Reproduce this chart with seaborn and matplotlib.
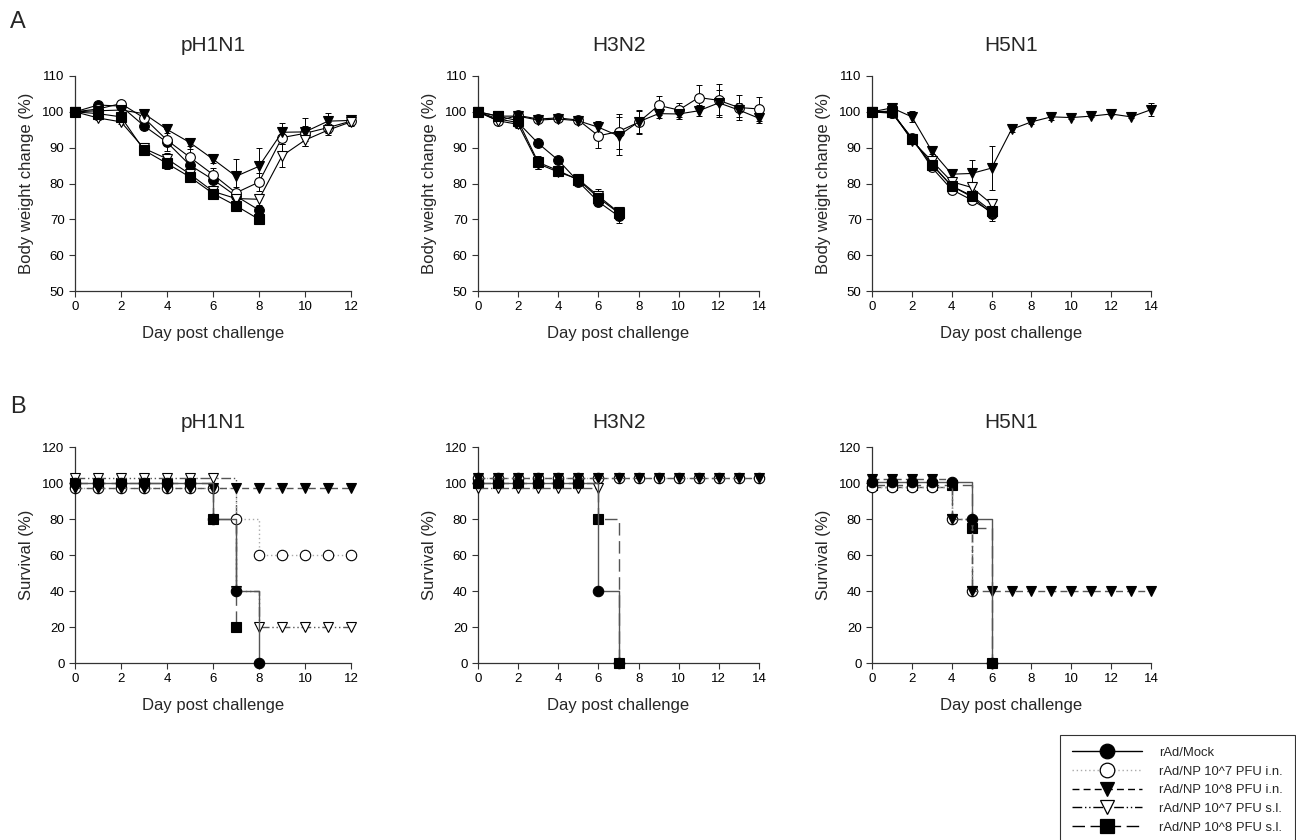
import numpy as np
import matplotlib.pyplot as plt
import seaborn as sns
from matplotlib.lines import Line2D

# groups (legend order)
groups = ["rAd/Mock", "rAd/NP 10^7 PFU i.n.", "rAd/NP 10^8 PFU i.n.",
          "rAd/NP 10^7 PFU s.l.", "rAd/NP 10^8 PFU s.l."]
strains = ["pH1N1", "H3N2", "H5N1"]
day_max = [12, 14, 14]

# body weight change (%), one value per day starting at day 0
weight_pH1N1 = {
    "rAd/Mock": [100, 101.9, 101.6, 96.1, 91.5, 85.1, 81.1, 76.5, 72.6],
    "rAd/NP 10^7 PFU i.n.": [100, 100.8, 102.3, 98.3, 92.1, 87.3, 82.5, 77.4, 80.4, 92.8, 94.0, 95.6, 97.4],
    "rAd/NP 10^8 PFU i.n.": [100, 100.3, 100.5, 99.5, 95.1, 91.4, 86.8, 82.0, 84.8, 94.3, 94.4, 97.4, 97.6],
    "rAd/NP 10^7 PFU s.l.": [100, 98.3, 97.2, 89.8, 86.9, 82.6, 77.8, 75.8, 75.6, 87.7, 92.1, 94.9, 97.2],
    "rAd/NP 10^8 PFU s.l.": [100, 99.5, 98.6, 89.3, 85.6, 81.8, 77.2, 73.8, 70.0],
}
err_pH1N1 = {
    "rAd/Mock": [0, 0.5, 0.5, 1, 1, 1, 1, 1.5, 1],
    "rAd/NP 10^7 PFU i.n.": [0, 0.5, 0.5, 1, 3.1, 2.2, 1.7, 1.5, 2.6, 1.8, 2, 1.5, 1],
    "rAd/NP 10^8 PFU i.n.": [0, 0.5, 0.5, 1.2, 1, 1, 1, 4.8, 5, 2.7, 4, 2.3, 1.5],
    "rAd/NP 10^7 PFU s.l.": [0, 0.5, 0.5, 1, 1.5, 1, 1.2, 1.5, 1.5, 3.2, 1.5, 1.5, 1],
    "rAd/NP 10^8 PFU s.l.": [0, 0.5, 0.8, 1, 1.5, 1, 1.2, 1, 0.5],
}
weight_H3N2 = {
    "rAd/Mock": [100, 98.0, 97.0, 91.2, 86.5, 80.5, 74.9, 70.9],
    "rAd/NP 10^7 PFU i.n.": [100, 97.5, 99.0, 98.0, 98.3, 97.7, 93.3, 94.5, 97.1, 101.8, 100.5, 104.0, 103.2, 101.2, 100.8],
    "rAd/NP 10^8 PFU i.n.": [100, 98.8, 98.8, 97.7, 98.0, 97.5, 95.7, 93.3, 97.2, 99.5, 99.4, 100.3, 102.5, 100.5, 98.2],
    "rAd/NP 10^7 PFU s.l.": [100, 97.5, 96.5, 85.5, 83.2, 81.2, 76.5, 72.0],
    "rAd/NP 10^8 PFU s.l.": [100, 98.8, 97.5, 85.9, 83.6, 81.0, 76.0, 71.8],
}
err_H3N2 = {
    "rAd/Mock": [0, 1, 1, 0.8, 0.8, 1, 1.2, 2],
    "rAd/NP 10^7 PFU i.n.": [0, 1.2, 0.8, 0.5, 0.5, 0.8, 3.5, 5.0, 3.4, 2.6, 2.0, 3.6, 4.6, 3.4, 3.3],
    "rAd/NP 10^8 PFU i.n.": [0, 0.8, 0.8, 0.5, 0.5, 0.8, 1.8, 5.3, 3.0, 1.2, 1.5, 1.5, 3.5, 2.0, 1.2],
    "rAd/NP 10^7 PFU s.l.": [0, 0.8, 1, 1.5, 1.2, 1.5, 2.0, 1.5],
    "rAd/NP 10^8 PFU s.l.": [0, 0.8, 1, 1.8, 1.2, 1.2, 1.5, 1.5],
}
weight_H5N1 = {
    "rAd/Mock": [100, 99.8, 92.3, 85.4, 79.3, 76.3, 71.6],
    "rAd/NP 10^7 PFU i.n.": [100, 99.6, 92.8, 84.5, 78.3, 75.4, 72.1],
    "rAd/NP 10^8 PFU i.n.": [100, 101.1, 98.6, 89.1, 82.6, 82.8, 84.3, 95.1, 97.2, 98.6, 98.4, 98.8, 99.4, 98.6, 100.6],
    "rAd/NP 10^7 PFU s.l.": [100, 100.2, 92.0, 86.3, 80.5, 78.9, 74.3],
    "rAd/NP 10^8 PFU s.l.": [100, 100.0, 92.5, 85.3, 79.3, 76.6, 72.3],
}
err_H5N1 = {
    "rAd/Mock": [0, 1, 1, 1, 1, 1, 2.2],
    "rAd/NP 10^7 PFU i.n.": [0, 1, 1, 1, 1, 1, 1.5],
    "rAd/NP 10^8 PFU i.n.": [0, 0.8, 1.5, 1.0, 1.4, 3.7, 6.1, 0.8, 0.5, 0.8, 0.3, 0.3, 0.3, 0.3, 1.8],
    "rAd/NP 10^7 PFU s.l.": [0, 1, 1, 1, 1, 1.5, 1.2],
    "rAd/NP 10^8 PFU s.l.": [0, 1, 1.2, 1.2, 1, 1.2, 1],
}

# survival (%), one value per day starting at day 0
surv_pH1N1 = {
    "rAd/Mock": [100, 100, 100, 100, 100, 100, 80, 40, 0],
    "rAd/NP 10^7 PFU i.n.": [100, 100, 100, 100, 100, 100, 100, 80, 60, 60, 60, 60, 60],
    "rAd/NP 10^8 PFU i.n.": [100, 100, 100, 100, 100, 100, 100, 100, 100, 100, 100, 100, 100],
    "rAd/NP 10^7 PFU s.l.": [100, 100, 100, 100, 100, 100, 100, 40, 20, 20, 20, 20, 20],
    "rAd/NP 10^8 PFU s.l.": [100, 100, 100, 100, 100, 100, 80, 20],
}
surv_H3N2 = {
    "rAd/Mock": [100, 100, 100, 100, 100, 100, 40, 0],
    "rAd/NP 10^7 PFU i.n.": [100, 100, 100, 100, 100, 100, 100, 100, 100, 100, 100, 100, 100, 100, 100],
    "rAd/NP 10^8 PFU i.n.": [100, 100, 100, 100, 100, 100, 100, 100, 100, 100, 100, 100, 100, 100, 100],
    "rAd/NP 10^7 PFU s.l.": [100, 100, 100, 100, 100, 100, 100],
    "rAd/NP 10^8 PFU s.l.": [100, 100, 100, 100, 100, 100, 80, 0],
}
surv_H5N1 = {
    "rAd/Mock": [100, 100, 100, 100, 100, 80, 0],
    "rAd/NP 10^7 PFU i.n.": [100, 100, 100, 100, 80, 40],
    "rAd/NP 10^8 PFU i.n.": [100, 100, 100, 100, 80, 40, 40, 40, 40, 40, 40, 40, 40, 40, 40],
    "rAd/NP 10^7 PFU s.l.": [100, 100, 100, 100, 80, 40],
    "rAd/NP 10^8 PFU s.l.": [100, 100, 100, 100, 100, 75, 0],
}
# small vertical shifts of the 100% plateau so overlapping curves stay visible
shift_pH1N1 = {"rAd/Mock": 0, "rAd/NP 10^7 PFU i.n.": -3, "rAd/NP 10^8 PFU i.n.": -3,
               "rAd/NP 10^7 PFU s.l.": 3, "rAd/NP 10^8 PFU s.l.": 0}
shift_H3N2 = {"rAd/Mock": 0, "rAd/NP 10^7 PFU i.n.": 3, "rAd/NP 10^8 PFU i.n.": 3,
              "rAd/NP 10^7 PFU s.l.": -3, "rAd/NP 10^8 PFU s.l.": 0}
shift_H5N1 = {"rAd/Mock": 0.5, "rAd/NP 10^7 PFU i.n.": -2, "rAd/NP 10^8 PFU i.n.": 2.5,
              "rAd/NP 10^7 PFU s.l.": -2, "rAd/NP 10^8 PFU s.l.": -1}

weights = [weight_pH1N1, weight_H3N2, weight_H5N1]
errs = [err_pH1N1, err_H3N2, err_H5N1]
survs = [surv_pH1N1, surv_H3N2, surv_H5N1]
shifts = [shift_pH1N1, shift_H3N2, shift_H5N1]

styles = {
    "rAd/Mock": dict(marker="o", mfc="black", ls="-", lc="#555555"),
    "rAd/NP 10^7 PFU i.n.": dict(marker="o", mfc="white", ls=(0, (1, 2)), lc="#aaaaaa"),
    "rAd/NP 10^8 PFU i.n.": dict(marker="v", mfc="black", ls=(0, (5, 3)), lc="#555555"),
    "rAd/NP 10^7 PFU s.l.": dict(marker="v", mfc="white", ls=(0, (7, 2, 1, 2, 1, 2)), lc="#555555"),
    "rAd/NP 10^8 PFU s.l.": dict(marker="s", mfc="black", ls=(0, (9, 4)), lc="#555555"),
}

sns.set_style("ticks")
plt.rcParams["font.family"] = ["Liberation Sans", "DejaVu Sans"]

fig = plt.figure(figsize=(12.96, 8.4), dpi=100)

lefts = [75, 478, 872]
widths = [276, 281, 279]
W, H = 1296, 840


def style_axes(ax, xmax, ylim, yticks, ylabel):
    ax.set_xlim(0, xmax)
    ax.set_ylim(*ylim)
    ax.set_xticks(range(0, xmax + 1, 2))
    ax.set_yticks(yticks)
    for s in ["top", "right"]:
        ax.spines[s].set_visible(False)
    for s in ["left", "bottom"]:
        ax.spines[s].set_color("#333333")
        ax.spines[s].set_linewidth(0.9)
    ax.tick_params(direction="out", length=4, width=0.8, labelsize=9.5, colors="#333333", labelcolor="black")
    ax.set_xlabel("Day post challenge", fontsize=12, labelpad=9)
    ax.set_ylabel(ylabel, fontsize=12, labelpad=6)


# A: body weight
for i, strain in enumerate(strains):
    ax = fig.add_axes([lefts[i] / W, 1 - 291 / H, widths[i] / W, 215 / H])
    for g in groups:
        y = weights[i][g]
        x = list(range(len(y)))
        ax.errorbar(x, y, yerr=errs[i][g], fmt="none", ecolor="black", elinewidth=0.7,
                    capsize=2.5, capthick=0.7, zorder=2, clip_on=False)
        st = styles[g]
        sns.lineplot(x=x, y=y, ax=ax, color="black", linewidth=0.8, marker=st["marker"],
                     markersize=7, markerfacecolor=st["mfc"], markeredgecolor="black",
                     markeredgewidth=0.8, errorbar=None, zorder=3, clip_on=False)
    style_axes(ax, day_max[i], (50, 110), range(50, 111, 10), "Body weight change (%)")
    ax.set_title(strain, fontsize=15, pad=18)

# B: survival
draw_order = [groups[4], groups[3], groups[1], groups[2], groups[0]]
for i, strain in enumerate(strains):
    ax = fig.add_axes([lefts[i] / W, 1 - 663 / H, widths[i] / W, 216 / H])
    for g in draw_order:
        v = np.array(survs[i][g], dtype=float)
        y = np.where(v == 100, v + shifts[i][g], v)
        x = np.arange(len(v))
        st = styles[g]
        sns.lineplot(x=x, y=y, ax=ax, color=st["lc"], linewidth=1.0, linestyle=st["ls"],
                     drawstyle="steps-post", marker=st["marker"], markersize=7.5,
                     markerfacecolor=st["mfc"], markeredgecolor="black", markeredgewidth=0.8,
                     errorbar=None, zorder=3, clip_on=False)
    style_axes(ax, day_max[i], (0, 120), range(0, 121, 20), "Survival (%)")
    ax.set_title(strain, fontsize=15, pad=14)

fig.text(10 / W, 1 - 22 / H, "A", fontsize=17, va="center", ha="left")
fig.text(10 / W, 1 - 407 / H, "B", fontsize=17, va="center", ha="left")

handles = []
for g in groups:
    st = styles[g]
    handles.append(Line2D([0], [0], color="#aaaaaa" if st["mfc"] == "white" and st["marker"] == "o" else "black",
                          linewidth=1.0, linestyle=st["ls"], marker=st["marker"], markersize=10.5,
                          markerfacecolor=st["mfc"], markeredgecolor="black", markeredgewidth=0.9))
leg = fig.legend(handles, groups, loc="upper left", bbox_to_anchor=(1060 / W, 1 - 735 / H),
                 fontsize=9.4, frameon=True, fancybox=False, handlelength=5.4,
                 handletextpad=1.3, labelspacing=0.5, borderpad=0.9, borderaxespad=0)
leg.get_frame().set_edgecolor("black")
leg.get_frame().set_linewidth(0.8)

fig.savefig("out.png", dpi=100)
